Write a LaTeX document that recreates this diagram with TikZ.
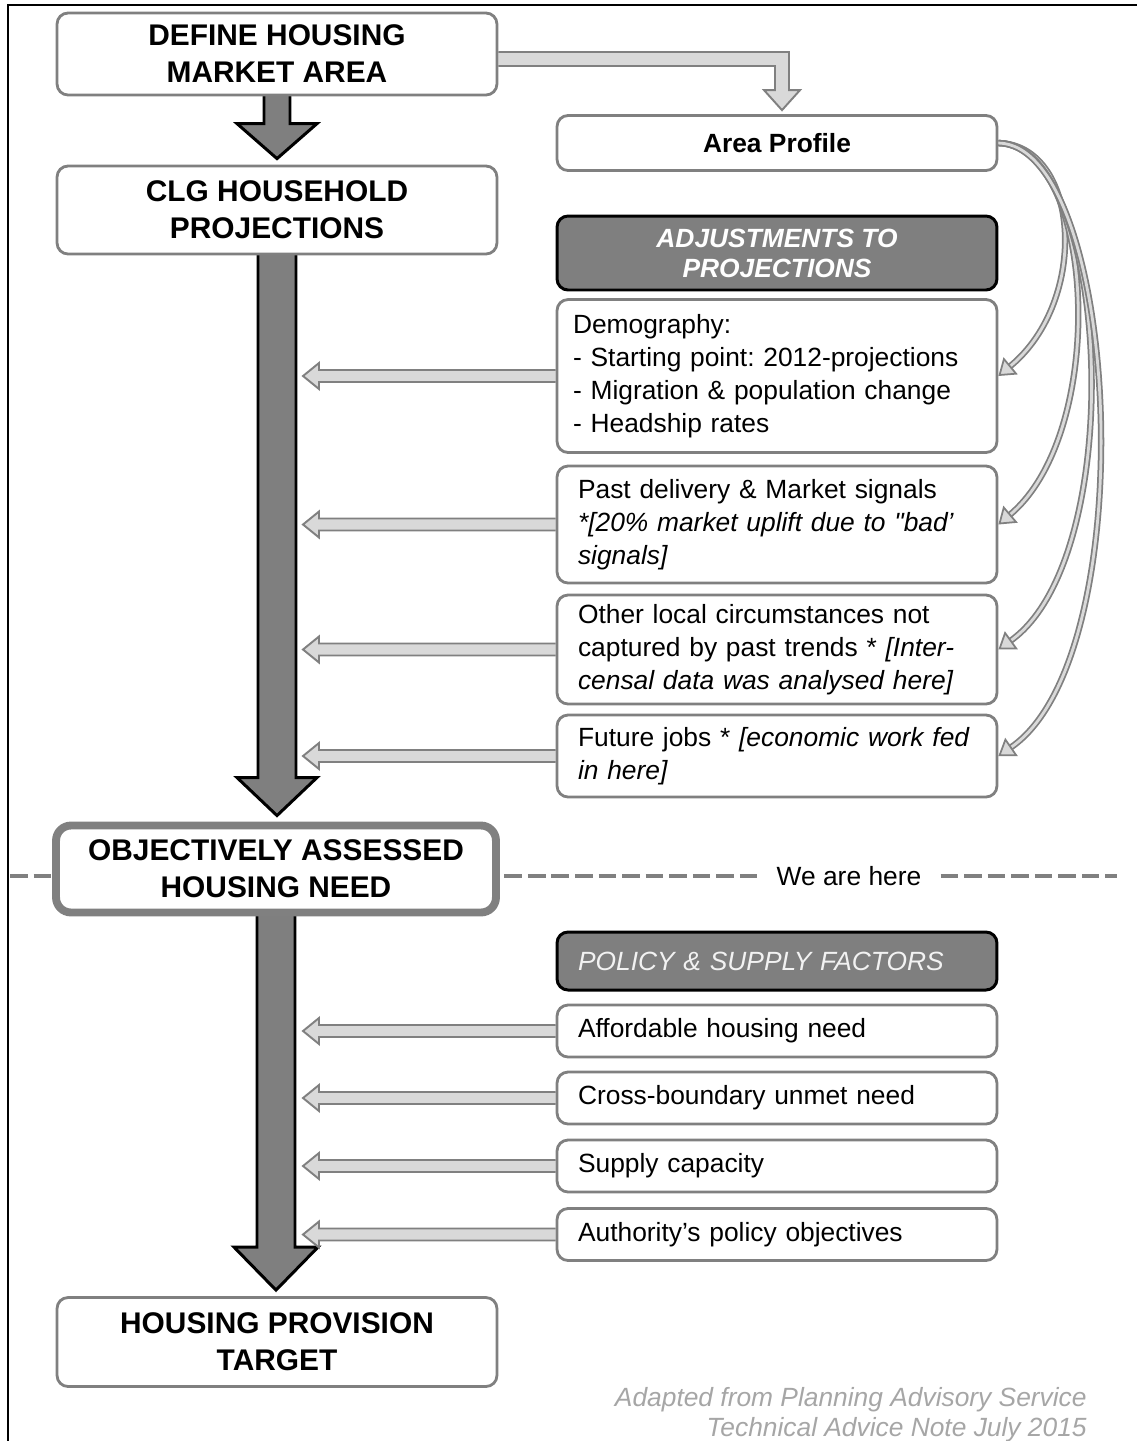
\documentclass[tikz,border=0pt]{standalone}
\usepackage{fontspec}
\setmainfont{Liberation Sans}
\usetikzlibrary{calc,arrows.meta}
\pgfdeclarelayer{background}
\pgfsetlayers{background,main}

\definecolor{boxgray}{HTML}{808080}
\definecolor{darkfill}{HTML}{7F7F7F}
\definecolor{lightfill}{HTML}{D9D9D9}
\definecolor{notegray}{HTML}{A6A6A6}

\tikzset{
  stage/.style={draw=boxgray, line width=1.6pt, rounded corners=0.22cm, fill=white,
    minimum width=8.8cm, align=center, font=\fontsize{17}{21}\selectfont\bfseries},
  factor/.style={draw=boxgray, line width=1.6pt, rounded corners=0.22cm, fill=white,
    minimum width=8.8cm, inner xsep=0.42cm, text width=7.96cm, align=left,
    font=\fontsize{15}{18.8}\selectfont},
  header/.style={draw=black, line width=1.7pt, rounded corners=0.22cm, fill=darkfill,
    minimum width=8.8cm, align=center, font=\fontsize{15}{17}\selectfont},
  bigarrow/.style={draw=black, line width=1.7pt, fill=darkfill, line join=miter},
  feedarrow/.style={draw=boxgray, line width=1.1pt, fill=lightfill, line join=miter},
  bendarrow/.style={draw=boxgray, line width=1pt, double=lightfill, double distance=1.6pt,
    -{Triangle[length=0.32cm, width=0.44cm, fill=lightfill]}},
  divider/.style={draw=boxgray, line width=2.8pt, dash pattern=on 10pt off 3.4pt}
}

\newcommand{\downflow}[5]{%
  \draw[bigarrow] ($(#1.center)+(-#3,0)$) -- ($(#1.center |- #2.north)+(-#3,-6-#5)$)
    -- ($(#1.center |- #2.north)+(-#4,-6-#5)$) -- ($(#1.center |- #2.north)+(0,-6)$)
    -- ($(#1.center |- #2.north)+(#4,-6-#5)$) -- ($(#1.center |- #2.north)+(#3,-6-#5)$)
    -- ($(#1.center)+(#3,0)$) -- cycle;}
\newcommand{\feedflow}[1]{%
  \draw[feedarrow] ($(#1.west)+(0,-6)$) -- ($(#1.west -| trunk)+(16,-6)$)
    -- ($(#1.west -| trunk)+(16,-13)$) -- (#1.west -| trunk)
    -- ($(#1.west -| trunk)+(16,13)$) -- ($(#1.west -| trunk)+(16,6)$) -- ($(#1.west)+(0,6)$);}

\begin{document}
\frenchspacing
\begin{tikzpicture}[x=0.02cm, y=-0.02cm]
    \useasboundingbox (0,0) rectangle (1137,1441);
    \draw[line width=0.8pt] (8,1441) -- (8,5) -- (1137,5);

    \node[stage, minimum height=1.64cm] (def) at (277,54) {DEFINE HOUSING\\MARKET AREA};
    \node[stage, minimum height=1.76cm] (clg) at (277,210) {CLG HOUSEHOLD\\PROJECTIONS};
    \node[stage, minimum height=1.74cm, line width=4.5pt, rounded corners=0.3cm] (oahn) at (276,869) {OBJECTIVELY ASSESSED\\HOUSING NEED};
    \node[stage, minimum height=1.78cm] (hpt) at (277,1342) {HOUSING PROVISION\\TARGET};

    \node[stage, minimum height=1.1cm, font=\fontsize{15}{18}\selectfont\bfseries] (area) at (777,143) {Area Profile};
    \node[header, minimum height=1.48cm, text=white, font=\fontsize{15}{17}\selectfont\bfseries\itshape] (adj) at (777,253) {ADJUSTMENTS TO\\PROJECTIONS};
    \node[factor, minimum height=3.06cm, inner xsep=0.32cm, text width=8.16cm] (demo) at (777,376)
        {Demography:\\- Starting point: 2012-projections\\- Migration \& population change\\- Headship rates};
    \node[factor, minimum height=2.34cm] (past) at (777,524.5)
        {Past delivery \& Market signals\\\textit{*[20\% market uplift due to \textquotedbl bad'}\\\textit{signals]}};
    \node[factor, minimum height=2.18cm] (other) at (777,649.5)
        {Other local circumstances not\\captured by past trends * \textit{[Inter-}\\\textit{censal data was analysed here]}};
    \node[factor, minimum height=1.64cm] (jobs) at (777,756)
        {Future jobs * \textit{[economic work fed}\\\textit{in here]}};

    \node[header, minimum height=1.16cm, text=white!95!black, font=\fontsize{15}{17}\selectfont\itshape, align=left, text width=7.96cm] (psf) at (777,961) {POLICY \& SUPPLY FACTORS};
    \foreach[count=\i] \nm/\txt/\yy in {aff/Affordable housing need/1031, cross/Cross-boundary unmet need/1098,
        supply/Supply capacity/1166, auth/Authority's policy objectives/1234.5} {
        \node[factor, minimum height=1.04cm] (\nm) at (777,\yy) {\txt};
    }

    \node[font=\fontsize{15}{18}\selectfont, inner xsep=0.38cm] (here) at (849,876) {We are here};
    \coordinate (dl) at (10,876);
    \coordinate (dr) at (1117,876);
    \coordinate (trunk) at (303,0);

    \node[anchor=north east, align=right, text=notegray, inner sep=0pt,
        font=\fontsize{15}{17.2}\selectfont\itshape] (credit) at (1087,1387)
        {Adapted from Planning Advisory Service\\Technical Advice Note July 2015};

    \begin{pgfonlayer}{background}
        \draw[divider] (dl) -- (here.west);
        \draw[divider] (here.east) -- (dr);
        \downflow{def}{clg}{13}{40}{35}
        \downflow{clg}{oahn}{19}{40}{38}
        \downflow{oahn}{hpt}{19}{42}{43}
        \foreach \b in {demo,past,other,jobs,aff,cross,supply,auth} {\feedflow{\b}}
        \draw[feedarrow] ($(def.east)+(0,-2)$) -- ($(def.east -| area.north)+(12,-2)$)
            -- ($(area.north)+(12,-24)$) -- ($(area.north)+(23,-24)$) -- ($(area.north)+(5,-4)$)
            -- ($(area.north)+(-13,-24)$) -- ($(area.north)+(-2,-24)$)
            -- ($(def.east -| area.north)+(-2,12)$) -- ($(def.east)+(0,12)$);
    \end{pgfonlayer}

    \draw[bendarrow] (area.east) .. controls (1080,145) and (1090,300) .. (demo.east);
    \draw[bendarrow] (area.east) .. controls (1095,145) and (1110,430) .. (past.east);
    \draw[bendarrow] (area.east) .. controls (1110,145) and (1130,555) .. (other.east);
    \draw[bendarrow] (area.east) .. controls (1120,145) and (1145,655) .. (jobs.east);
\end{tikzpicture}
\end{document}
